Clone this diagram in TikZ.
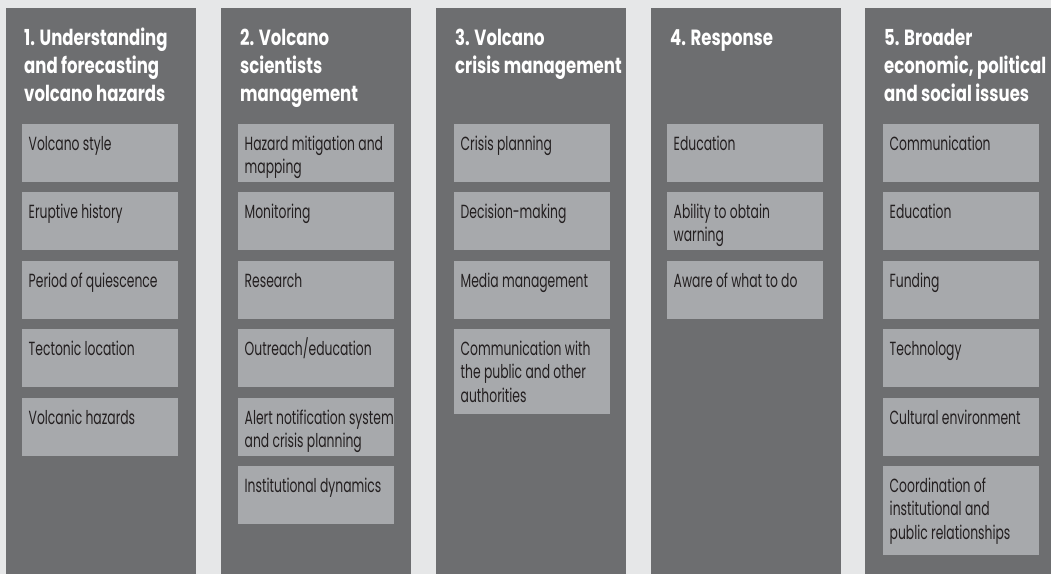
\documentclass[tikz,border=0pt]{standalone}
\usepackage{fontspec}
\setmainfont{Poppins}[FakeStretch=0.65]
\newfontfamily\titlefont{Poppins}[FakeStretch=0.75]
\definecolor{bggray}{HTML}{E6E7E8}
\definecolor{colgray}{HTML}{6D6E70}
\definecolor{boxgray}{HTML}{A7A9AC}
\definecolor{txtdark}{HTML}{231F20}
\tikzset{
  colbox/.style={fill=colgray, draw=none, anchor=north west, inner sep=0pt, outer sep=0pt, minimum width=190, minimum height=566},
  itembox/.style={fill=boxgray, draw=none, anchor=north west, inner sep=0pt, outer sep=0pt, minimum width=156},
  itemtxt/.style={anchor=base west, inner sep=0pt, text=txtdark, font={\fontsize{19}{23.3}\selectfont}},
  coltitle/.style={anchor=base west, inner sep=0pt, text=white, font={\titlefont\bfseries\fontsize{22}{28.3}\selectfont}}
}
\newcommand\itm[5]{%
  \node[itembox, minimum height=#4] (#1) at (#2,#3) {};
  \node[itemtxt] (#1t) at ([shift={(6.5,26.5)}]#1.north west) {\parbox[t]{150pt}{\raggedright #5}};}
\newcommand\ttl[4]{%
  \node[coltitle] (#1) at (#2,#3) {\parbox[t]{175pt}{\raggedright #4}};}
\begin{document}
\begin{tikzpicture}[x=1pt,y=-1pt]
\fill[bggray] (0,0) rectangle (1051,574);
\useasboundingbox (0,0) rectangle (1051,574);
% columns
\node[colbox] (c1) at (6,8) {};
\node[colbox] (c2) at (221,8) {};
\node[colbox] (c3) at (436,8) {};
\node[colbox] (c4) at (651,8) {};
\node[colbox, minimum width=186] (c5) at (865,8) {};
% titles
\ttl{t1}{24}{45}{1. Understanding\\and forecasting\\volcano hazards}
\ttl{t2}{240}{45}{2. Volcano\\scientists\\management}
\ttl{t3}{455}{45}{3. Volcano\\crisis management}
\ttl{t4}{670}{45}{4. Response}
\ttl{t5}{884}{45}{5. Broader\\economic, political\\and social issues}
% column 1
\itm{a1}{22}{124}{58}{Volcano style}
\itm{a2}{22}{192}{58}{Eruptive history}
\itm{a3}{22}{261}{58}{Period of quiescence}
\itm{a4}{22}{329}{58}{Tectonic location}
\itm{a5}{22}{398}{58}{Volcanic hazards}
% column 2
\itm{b1}{238}{124}{58}{Hazard mitigation and\\mapping}
\itm{b2}{238}{192}{58}{Monitoring}
\itm{b3}{238}{261}{58}{Research}
\itm{b4}{238}{329}{58}{Outreach/education}
\itm{b5}{238}{398}{58}{Alert notification system\\and crisis planning}
\itm{b6}{238}{466}{58}{Institutional dynamics}
% column 3
\itm{d1}{454}{124}{58}{Crisis planning}
\itm{d2}{454}{192}{58}{Decision-making}
\itm{d3}{454}{261}{58}{Media management}
\itm{d4}{454}{329}{85}{Communication with\\the public and other\\authorities}
% column 4
\itm{e1}{667}{124}{58}{Education}
\itm{e2}{667}{192}{58}{Ability to obtain\\warning}
\itm{e3}{667}{261}{58}{Aware of what to do}
% column 5
\itm{f1}{883}{124}{58}{Communication}
\itm{f2}{883}{192}{58}{Education}
\itm{f3}{883}{261}{58}{Funding}
\itm{f4}{883}{329}{58}{Technology}
\itm{f5}{883}{398}{58}{Cultural environment}
\itm{f6}{883}{466}{89}{Coordination of\\institutional and\\public relationships}
\end{tikzpicture}
\end{document}
